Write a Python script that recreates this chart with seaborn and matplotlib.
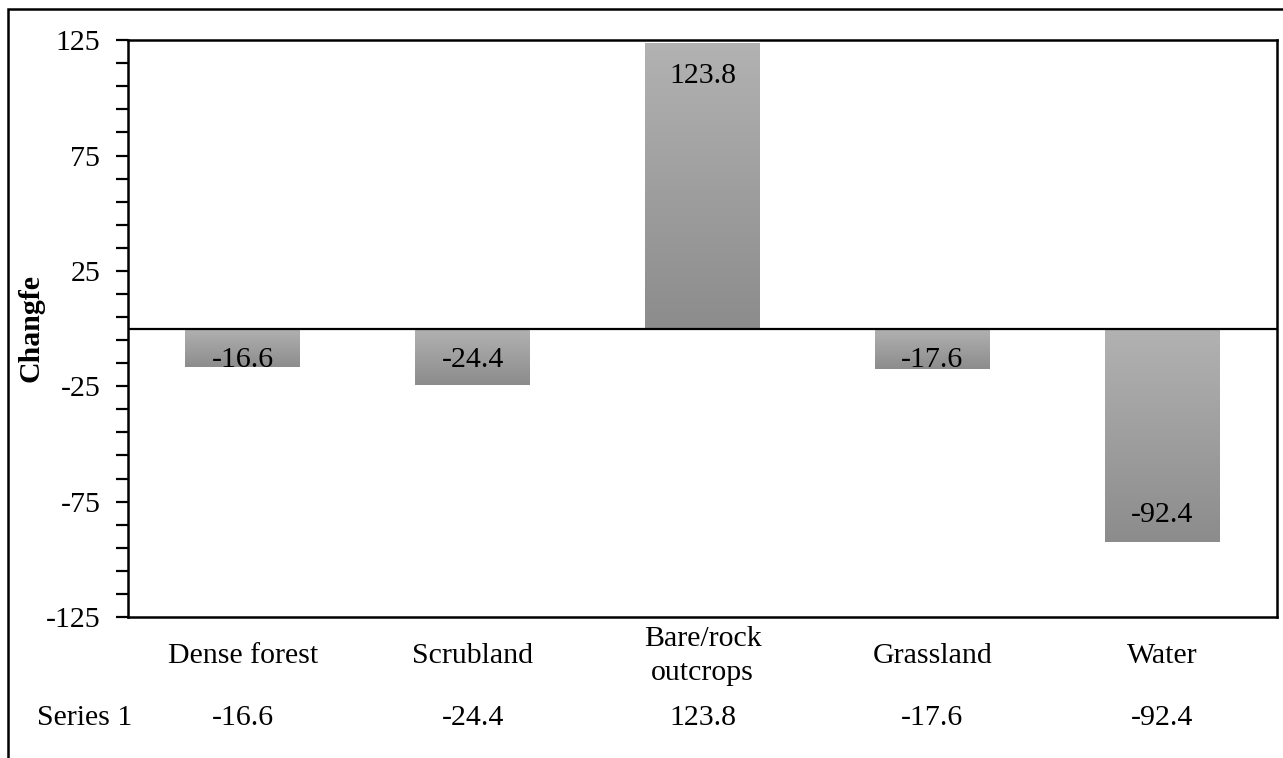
import numpy as np
import pandas as pd
import matplotlib.pyplot as plt
import seaborn as sns
from matplotlib.patches import Rectangle
from matplotlib.ticker import FixedLocator
from matplotlib.colors import LinearSegmentedColormap
import matplotlib.transforms as mtransforms

# data
categories = ['Dense forest', 'Scrubland', 'Bare/rock\noutcrops', 'Grassland', 'Water']
series_name = 'Series 1'
values = [-16.6, -24.4, 123.8, -17.6, -92.4]
major_ticks = [-125, -75, -25, 25, 75, 125]
minor_ticks = [-115, -105, -95, -85, -65, -55, -45, -35, -15, -5, 5, 15,
               35, 45, 55, 65, 85, 95, 105, 115]

df = pd.DataFrame({'cat': categories, 'val': values})

sns.set_style("white")
plt.rcParams['font.family'] = ['Liberation Serif', 'DejaVu Serif']
plt.rcParams['axes.unicode_minus'] = False
for k in ['text.color', 'axes.labelcolor', 'xtick.color', 'ytick.color']:
    plt.rcParams[k] = 'black'
fs = 21.5

fig = plt.figure(figsize=(12.83, 7.58), dpi=100)
ax = fig.add_axes([0.0998, 0.186, 0.8955, 0.761])

sns.barplot(data=df, x='cat', y='val', color='#a0a0a0', width=0.5, ax=ax, saturation=1)

# gradient fill for each bar
cmap = LinearSegmentedColormap.from_list('g', ['#8c8c8c', '#b2b2b2'])
grad = np.linspace(0, 1, 256).reshape(-1, 1)
bars = list(ax.patches)
for p in bars:
    x0, y0 = p.get_x(), p.get_y()
    w, h = p.get_width(), p.get_height()
    ylo, yhi = min(y0, y0 + h), max(y0, y0 + h)
    ax.imshow(grad, extent=[x0, x0 + w, ylo, yhi], origin='lower', aspect='auto',
              cmap=cmap, zorder=2, interpolation='bicubic')
    p.set_visible(False)
ax.set_xlim(-0.5, 4.5)
ax.set_ylim(-125, 125)

# bar labels at inside end (clipped by the bar like Excel does)
for i, (v, p) in enumerate(zip(values, bars)):
    if v >= 0:
        t = ax.text(i, v - 14.5, f'{v}', ha='center', va='center', fontsize=fs, zorder=3)
    else:
        t = ax.text(i, min(v + 11.4, -13.8), f'{v}', ha='center', va='center',
                    fontsize=fs, zorder=3)
    t.set_clip_path(p)
    t.set_clip_on(True)

ax.axhline(0, color='black', lw=1.6, zorder=4)

# axes styling
ax.yaxis.set_major_locator(FixedLocator(major_ticks))
ax.yaxis.set_minor_locator(FixedLocator(minor_ticks))
ax.tick_params(axis='y', which='both', direction='out', left=True, length=9, width=1.6,
               labelsize=fs, pad=11, color='black')
ax.tick_params(axis='x', length=0, labelsize=fs, pad=28)
for lbl in ax.get_xticklabels():
    lbl.set_va('center')
    lbl.set_linespacing(1.4)
ax.set_xlabel('')
ax.set_ylabel('')
for s in ax.spines.values():
    s.set_visible(True)
    s.set_color('black')
    s.set_linewidth(1.8)

fig.text(31 / 1283, 1 - 328 / 758, 'Changfe', rotation=90, fontsize=fs,
         fontweight='bold', ha='center', va='center')

# data table row
trans = mtransforms.blended_transform_factory(ax.transData, fig.transFigure)
row_y = 1 - 718 / 758
for i, v in enumerate(values):
    ax.text(i, row_y, f'{v}', transform=trans, ha='center', va='center', fontsize=fs)
fig.text(85 / 1283, row_y, series_name, ha='center', va='center', fontsize=fs)

# outer frame
fig.add_artist(Rectangle((8 / 1283, -0.2), 2, 1.2 - 9 / 758, transform=fig.transFigure,
                         fill=False, lw=1.8, edgecolor='black'))

plt.savefig('out.png', dpi=100)
